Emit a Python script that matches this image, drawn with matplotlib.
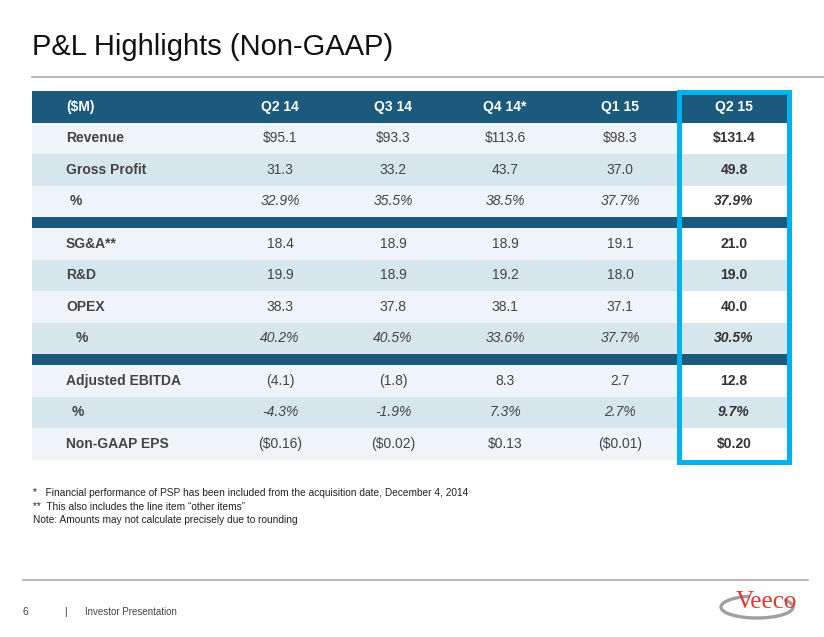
import matplotlib
matplotlib.use("Agg")
import matplotlib.pyplot as plt
from matplotlib.patches import Rectangle, Arc

plt.rcParams['font.family'] = ['Liberation Sans', 'DejaVu Sans']

# table data
quarters = ["Q2 14", "Q3 14", "Q4 14*", "Q1 15", "Q2 15"]
revenue = [95.1, 93.3, 113.6, 98.3, 131.4]
gross_profit = [31.3, 33.2, 43.7, 37.0, 49.8]
gross_pct = [32.9, 35.5, 38.5, 37.7, 37.9]
sga = [18.4, 18.9, 18.9, 19.1, 21.0]
rnd = [19.9, 18.9, 19.2, 18.0, 19.0]
opex = [38.3, 37.8, 38.1, 37.1, 40.0]
opex_pct = [40.2, 40.5, 33.6, 37.7, 30.5]
ebitda = [-4.1, -1.8, 8.3, 2.7, 12.8]
ebitda_pct = [-4.3, -1.9, 7.3, 2.7, 9.7]
eps = [-0.16, -0.02, 0.13, -0.01, 0.20]

footnotes = [
    "*   Financial performance of PSP has been included from the acquisition date, December 4, 2014",
    "**  This also includes the line item \u201cother items\u201d",
    "Note: Amounts may not calculate precisely due to rounding",
]


def fmt_dollar(v):
    return "$%.1f" % v


def fmt_num(v):
    return "(%.1f)" % abs(v) if v < 0 else "%.1f" % v


def fmt_pct(v):
    return "%.1f%%" % v


def fmt_eps(v):
    return "($%.2f)" % abs(v) if v < 0 else "$%.2f" % v


# (label, values, formatter, italic, label indent)
groups = [
    [("Revenue", revenue, fmt_dollar, False, 0),
     ("Gross Profit", gross_profit, fmt_num, False, 0),
     ("%", gross_pct, fmt_pct, True, 4)],
    [("SG&A**", sga, fmt_num, False, 0),
     ("R&D", rnd, fmt_num, False, 0),
     ("OPEX", opex, fmt_num, False, 0),
     ("%", opex_pct, fmt_pct, True, 10)],
    [("Adjusted EBITDA", ebitda, fmt_num, False, 0),
     ("%", ebitda_pct, fmt_pct, True, 6),
     ("Non-GAAP EPS", eps, fmt_eps, False, 0)],
]

W, H = 824, 637
fig = plt.figure(figsize=(W / 100, H / 100), dpi=100)
ax = fig.add_axes([0, 0, 1, 1])
ax.set_xlim(0, W)
ax.set_ylim(H, 0)
ax.axis("off")

dark = "#1c5a7d"
light = "#eef4f7"
mid = "#d7e6ec"
txt = "#444444"

# title and rule
ax.text(32, 47, "P&L Highlights (Non-GAAP)", fontsize=21, color="#111111",
        va="center", ha="left")
ax.plot([32, 824], [77, 77], color="#aaaaaa", lw=1.2)

left, right = 32, 787
col_x = [280, 393, 505, 620, 734]
last_left = 680
row_h = 31.5
sep_h = 11
label_x = 66

# header
top = 91
ax.add_patch(Rectangle((left, top), right - left, row_h, color=dark, lw=0))
ax.text(label_x, top + row_h / 2, "($M)", color="white", fontsize=10,
        fontweight="bold", va="center")
for x, q in zip(col_x, quarters):
    ax.text(x, top + row_h / 2, q, color="white", fontsize=10,
            fontweight="bold", va="center", ha="center")

y = top + row_h
for gi, group in enumerate(groups):
    if gi > 0:
        ax.add_patch(Rectangle((left, y), right - left, sep_h, color=dark, lw=0))
        y += sep_h
    for ri, (label, vals, fmt, italic, indent) in enumerate(group):
        bg = light if ri % 2 == 0 else mid
        ax.add_patch(Rectangle((left, y), last_left - left, row_h, color=bg, lw=0))
        ax.add_patch(Rectangle((last_left, y), right - last_left, row_h,
                               color="white" if bg == light else mid, lw=0))
        yc = y + row_h / 2
        ax.text(label_x + indent, yc, label, color=txt, fontsize=10,
                fontweight="bold", va="center")
        for ci, (x, v) in enumerate(zip(col_x, vals)):
            ax.text(x, yc, fmt(v), color=txt if ci < 4 else "#333333",
                    fontsize=10, va="center", ha="center",
                    fontstyle="italic" if italic else "normal",
                    fontweight="bold" if ci == 4 else "normal")
        y += row_h

# highlight box around last quarter
ax.add_patch(Rectangle((679.5, 91.5), 110, y + 2.5 - 91.5, fill=False,
                       edgecolor="#00b2ef", lw=3.6))

# footnotes
for i, note in enumerate(footnotes):
    ax.text(33, 493 + i * 13.5, note, fontsize=7.3, color="#222222", va="center")

# footer
ax.plot([23, 808], [580, 580], color="#aaaaaa", lw=1.2)
ax.text(23, 612, "6", fontsize=7.5, color="#444444", va="center")
ax.text(64, 612, "|", fontsize=7.5, color="#444444", va="center")
ax.text(85, 612, "Investor Presentation", fontsize=7, color="#444444",
        va="center", fontstretch="condensed")
ax.add_patch(Arc((757, 607), 72, 22, theta1=-15, theta2=235,
                 color="#a0a0a0", lw=2.4))
ax.text(766, 602, "Veeco", fontsize=18, color="#e8352c", va="center",
        ha="center", family="Liberation Serif")

fig.savefig("out.png", dpi=100)
